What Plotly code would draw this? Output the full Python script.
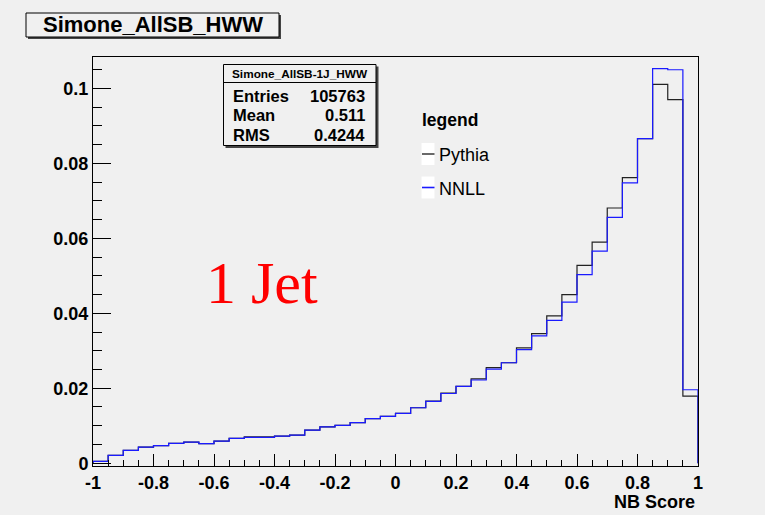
import numpy as np
import plotly.graph_objects as go

# Histogram binning of the NB score
x_min, x_max, n_bins = -1.0, 1.0, 40

# Normalised bin contents (40 bins from -1 to 1)
pythia = [0.0005, 0.0021, 0.0034, 0.0043, 0.0047, 0.0053, 0.0056, 0.0052, 0.0059, 0.0066,
          0.0070, 0.0070, 0.0072, 0.0075, 0.0088, 0.0097, 0.0101, 0.0108, 0.0119, 0.0125,
          0.0133, 0.0148, 0.0166, 0.0187, 0.0205, 0.0225, 0.0255, 0.0268, 0.0308, 0.0346,
          0.0393, 0.0450, 0.0528, 0.0590, 0.0681, 0.0762, 0.0866, 0.1011, 0.0970, 0.0179]
nnll = [0.0005, 0.0021, 0.0034, 0.0043, 0.0047, 0.0053, 0.0056, 0.0052, 0.0059, 0.0066,
        0.0069, 0.0069, 0.0072, 0.0075, 0.0088, 0.0097, 0.0101, 0.0108, 0.0119, 0.0125,
        0.0133, 0.0148, 0.0165, 0.0186, 0.0205, 0.0222, 0.0251, 0.0268, 0.0303, 0.0340,
        0.0381, 0.0430, 0.0503, 0.0566, 0.0656, 0.0748, 0.0866, 0.1053, 0.1050, 0.0196]

x_tickvals = [-1, -0.8, -0.6, -0.4, -0.2, 0, 0.2, 0.4, 0.6, 0.8, 1]
x_ticktext = ["-1", "-0.8", "-0.6", "-0.4", "-0.2", "0", "0.2", "0.4", "0.6", "0.8", "1"]
y_tickvals = [0, 0.02, 0.04, 0.06, 0.08, 0.1]
y_ticktext = ["0", "0.02", "0.04", "0.06", "0.08", "0.1"]

stats_title = "Simone_AllSB-1J_HWW"
stats_rows = [("Entries", "105763"), ("Mean", "0.511"), ("RMS", "0.4244")]

W, H = 765, 515
L, R, T, B = 93, 67, 57, 49
BG = "#f0f0f0"
SANS = "Liberation Sans, Arial, sans-serif"


def px(xp):
    return (xp - L) / (W - L - R)


def py(yp):
    return (H - B - yp) / (H - T - B)


edges = np.linspace(x_min, x_max, n_bins + 1)


def outline(vals):
    xs = np.concatenate([[edges[0]], edges, [edges[-1]]])
    ys = np.concatenate([[0.0], vals, [vals[-1]], [0.0]])
    return xs, ys


fig = go.Figure()
for name, vals, col, w in [("Pythia", pythia, "#222222", 1.2), ("NNLL", nnll, "#1a1aff", 1.2)]:
    xs, ys = outline(vals)
    fig.add_trace(go.Scatter(x=xs, y=ys, mode="lines", line=dict(color=col, width=w, shape="hv"),
                             name=name, showlegend=False, hoverinfo="skip"))

shapes = []
annotations = []


def rect(x0, y0, x1, y1, fill, line_col=None, lw=1):
    shapes.append(dict(type="rect", xref="paper", yref="paper",
                       x0=px(x0), x1=px(x1), y0=py(y1), y1=py(y0),
                       fillcolor=fill,
                       line=dict(color=line_col or fill, width=lw if line_col else 0),
                       layer="above"))


def text(s, x, y, size, xanchor="left", bold=False, color="black", family=SANS):
    annotations.append(dict(text=s, xref="paper", yref="paper", x=px(x), y=py(y),
                            xanchor=xanchor, yanchor="middle", showarrow=False,
                            font=dict(size=size, color=color, family=family,
                                      weight="bold" if bold else "normal")))


# Title box with drop shadow
rect(28, 15, 281, 39, "#444444")
rect(26, 13, 279, 37, BG, "black", 1)
text("Simone_AllSB_HWW", 152.5, 24.5, 22, xanchor="center", bold=True)

# Statistics box
rect(225.5, 66.5, 378.5, 148, "#444444")
rect(223.5, 64.5, 376, 145.5, BG, "black", 1)
shapes.append(dict(type="line", xref="paper", yref="paper", x0=px(223.5), x1=px(376),
                   y0=py(82.5), y1=py(82.5), line=dict(color="black", width=1), layer="above"))
text(stats_title, 299.5, 74, 11.8, xanchor="center", bold=True)
for i, (k, v) in enumerate(stats_rows):
    yy = 95.5 + i * 19.5
    text(k, 231, yy, 16.5, bold=True)
    text(v, 367, yy, 16.5, xanchor="right", bold=True)

# Legend
text("legend", 420, 120, 17.5, bold=True)
for yy, lab, col in [(154, "Pythia", "#444444"), (187.5, "NNLL", "#1a1aff")]:
    rect(421.5, yy - 11, 434.5, yy + 11, "white")
    shapes.append(dict(type="line", xref="paper", yref="paper", x0=px(422), x1=px(434.5),
                       y0=py(yy), y1=py(yy), line=dict(color=col, width=1.6), layer="above"))
    text(lab, 437, yy + 1, 18)

# Jet multiplicity label
text("1 Jet", 204, 283, 60, color="#ff0000", family="Liberation Serif, Times New Roman, serif")

# Axis title
text("NB Score", 697, 502, 18, xanchor="right", bold=True)

axis_common = dict(showgrid=False, zeroline=False, showline=True, linecolor="black", linewidth=1,
                   mirror=True, ticks="inside", tickcolor="black", tickwidth=1,
                   tickfont=dict(family=SANS, size=18, color="black", weight="bold"))

fig.update_layout(
    width=W, height=H,
    margin=dict(l=L, r=R, t=T, b=B),
    paper_bgcolor=BG, plot_bgcolor=BG,
    showlegend=False,
    shapes=shapes, annotations=annotations,
    xaxis=dict(range=[x_min, x_max], tickvals=x_tickvals, ticktext=x_ticktext, ticklen=12,
               minor=dict(ticks="inside", ticklen=6, dtick=0.05, tick0=-1, tickcolor="black"),
               **axis_common),
    yaxis=dict(range=[-0.00075, 0.1084], tickvals=y_tickvals, ticktext=y_ticktext, ticklen=18,
               minor=dict(ticks="inside", ticklen=9, dtick=0.005, tick0=0, tickcolor="black"),
               **axis_common),
)

fig.write_html("out.html")
